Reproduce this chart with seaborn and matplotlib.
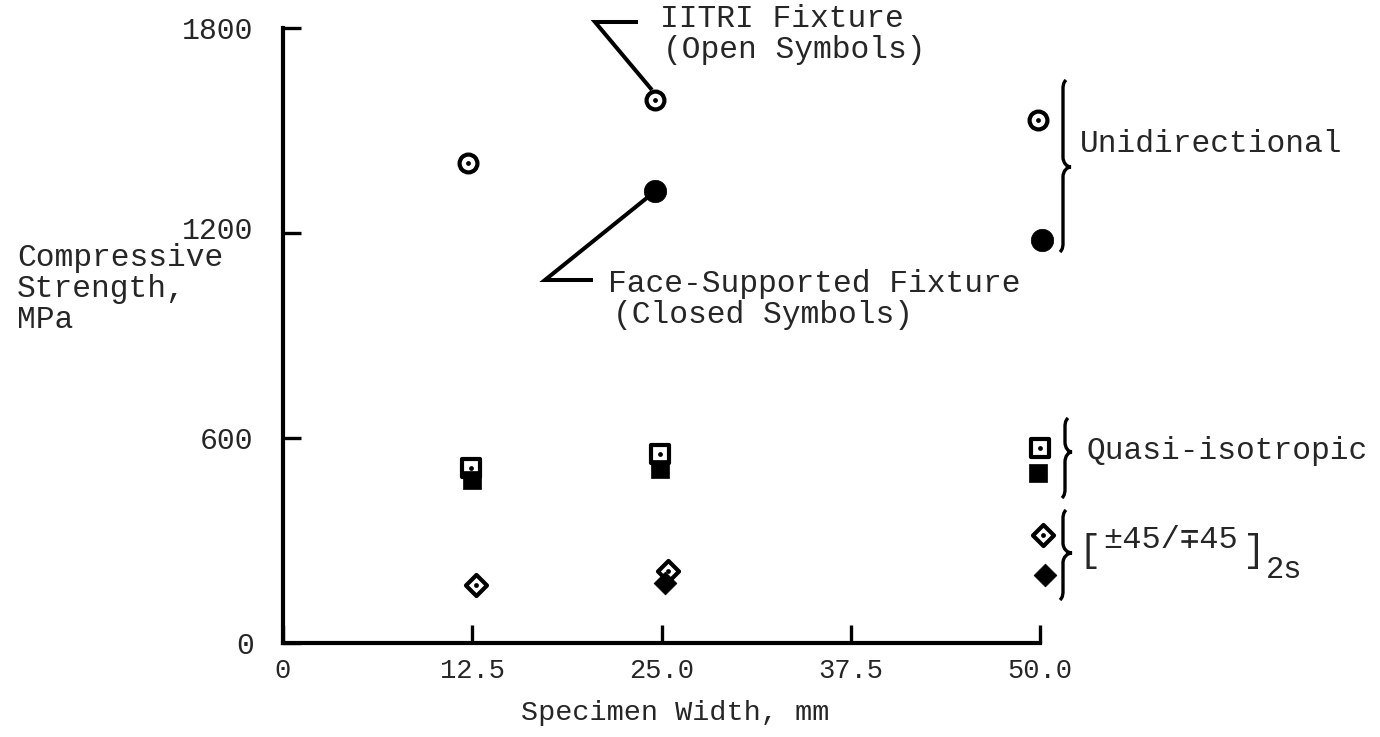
import matplotlib
matplotlib.use("Agg")
import numpy as np
import pandas as pd
import seaborn as sns
import matplotlib.pyplot as plt
from matplotlib.path import Path
from matplotlib.patches import PathPatch
from matplotlib.lines import Line2D
from matplotlib.transforms import ScaledTranslation

# ---------------- data ----------------
uni_open_w = [12.2, 24.6, 49.9]
uni_open_s = [1405, 1590, 1531]
uni_closed_w = [24.6, 50.1]
uni_closed_s = [1323, 1180]

quasi_open_w = [12.4, 24.9, 50.0]
quasi_open_s = [512, 553, 571]
quasi_closed_w = [12.5, 24.9, 49.9]
quasi_closed_s = [477, 509, 497]

pm45_open_w = [12.75, 25.4, 50.2]
pm45_open_s = [170, 211, 316]
pm45_closed_w = [25.2, 50.3]
pm45_closed_s = [176, 199]

x_ticks = [0, 12.5, 25.0, 37.5, 50.0]
x_tick_labels = ["0", "12.5", "25.0", "37.5", "50.0"]
y_ticks = [0, 600, 1200, 1800]
y_tick_labels = ["0", "600", "1200", "1800"]

# ---------------- table ----------------
rows = []
for lam, fix, ws, ss in [
    ("Unidirectional", "open", uni_open_w, uni_open_s),
    ("Unidirectional", "closed", uni_closed_w, uni_closed_s),
    ("Quasi-isotropic", "open", quasi_open_w, quasi_open_s),
    ("Quasi-isotropic", "closed", quasi_closed_w, quasi_closed_s),
    ("pm45", "open", pm45_open_w, pm45_open_s),
    ("pm45", "closed", pm45_closed_w, pm45_closed_s),
]:
    for w, s in zip(ws, ss):
        rows.append({"width": w, "strength": s, "laminate": lam, "fixture": fix})
df = pd.DataFrame(rows)

# ---------------- style ----------------
sns.set_style("white")
FAM = ["Liberation Mono", "DejaVu Sans Mono"]
plt.rcParams["font.family"] = FAM

W, H = 1380, 737
fig = plt.figure(figsize=(W / 100, H / 100), dpi=100)
X0, X1, Y0, Y1 = 283, 1040, 643, 28
ax = fig.add_axes([X0 / W, (H - Y0) / H, (X1 - X0) / W, (Y0 - Y1) / H])

markers = {"Unidirectional": ("o", 165, 260),
           "Quasi-isotropic": ("s", 155, 175),
           "pm45": ("D", 115, 135)}

for lam, (mk, s_open, s_closed) in markers.items():
    sub_o = df[(df.laminate == lam) & (df.fixture == "open")]
    sub_c = df[(df.laminate == lam) & (df.fixture == "closed")]
    sns.scatterplot(data=sub_o, x="width", y="strength", marker=mk, s=s_open,
                    color="white", edgecolor="black", linewidth=3.0,
                    ax=ax, clip_on=False, zorder=3, legend=False)
    sns.scatterplot(data=sub_c, x="width", y="strength", marker=mk, s=s_closed,
                    color="black", edgecolor="black", linewidth=0.5,
                    ax=ax, clip_on=False, zorder=4, legend=False)
    sns.scatterplot(data=sub_o, x="width", y="strength", marker="o", s=12,
                    color="black", linewidth=0,
                    ax=ax, clip_on=False, zorder=5, legend=False)

ax.set_xlim(0, 50)
ax.set_ylim(0, 1800)
ax.set_xticks(x_ticks)
ax.set_xticklabels(x_tick_labels)
ax.set_yticks(y_ticks)
ax.set_yticklabels(y_tick_labels)
ax.set_xlabel("")
ax.set_ylabel("")
for side in ["top", "right"]:
    ax.spines[side].set_visible(False)
for side in ["left", "bottom"]:
    ax.spines[side].set_linewidth(3.0)
    ax.spines[side].set_color("black")
    ax.spines[side].set_capstyle("projecting")
ax.tick_params(axis="both", which="major", direction="in", length=13, width=2.4,
               color="black", bottom=True, left=True, top=False, right=False)
ax.tick_params(axis="x", labelsize=19.5, pad=11)
ax.tick_params(axis="y", labelsize=21.5, pad=21)
ax.patch.set_alpha(0)

# the printed 1200 label sits a little higher than a linear scale puts it
for lab in ax.get_yticklabels():
    if lab.get_text() == "1200":
        lab.set_transform(lab.get_transform() + ScaledTranslation(0, 5 / 100, fig.dpi_scale_trans))


def P(px, py):
    return px / W, 1 - py / H


def ftext(px, py, s, size=22.5, ha="left", **kw):
    fx, fy = P(px, py)
    fig.text(fx, fy, s, ha=ha, va="baseline", fontsize=size, family=FAM, **kw)


def fline(pts, lw=2.9):
    xs = [p[0] / W for p in pts]
    ys = [1 - p[1] / H for p in pts]
    fig.add_artist(Line2D(xs, ys, transform=fig.transFigure, lw=lw, color="black",
                          solid_capstyle="butt", solid_joinstyle="miter"))


def brace(xb, yt, ym, yb, w, c=3, lw=2.4):
    a = min(10, (ym - yt) * 0.3)
    verts = [
        (xb + c, yt), (xb, yt + a * 0.3), (xb, yt + a * 0.6), (xb, yt + a),
        (xb, ym - a),
        (xb, ym - a * 0.4), (xb + w * 0.5, ym), (xb + w, ym),
        (xb + w * 0.5, ym), (xb, ym + a * 0.4), (xb, ym + a),
        (xb, yb - a),
        (xb, yb - a * 0.6), (xb, yb - a * 0.3), (xb - c, yb),
    ]
    codes = [Path.MOVETO, Path.CURVE4, Path.CURVE4, Path.CURVE4,
             Path.LINETO,
             Path.CURVE4, Path.CURVE4, Path.CURVE4,
             Path.CURVE4, Path.CURVE4, Path.CURVE4,
             Path.LINETO,
             Path.CURVE4, Path.CURVE4, Path.CURVE4]
    fv = [P(x, y) for x, y in verts]
    fig.add_artist(PathPatch(Path(fv, codes), transform=fig.transFigure,
                             fill=False, lw=lw, edgecolor="black"))


# leader lines and annotations
fline([(652, 90), (595, 22), (638, 22)])
fline([(648, 197), (545, 280), (593, 280)])
ftext(660, 27, "IITRI Fixture")
ftext(663, 58, "(Open Symbols)")
ftext(608, 292, "Face-Supported Fixture")
ftext(613, 323, "(Closed Symbols)")

# braces and group labels
brace(1063, 80, 167, 252, 8)
brace(1065, 418, 452, 498, 7)
brace(1063, 510, 553, 600, 9)
ftext(1080, 152, "Unidirectional")
ftext(1087, 459, "Quasi-isotropic")
ftext(1079, 561, "[", size=27)
ftext(1103, 548, "\u00b145/\u221345", size=23)
ftext(1243, 561, "]", size=27)
ftext(1266, 578, "2s", size=22)

# axis titles
ftext(17, 266, "Compressive")
ftext(17, 297, "Strength,")
ftext(17, 328, "MPa")
ftext(675, 720, "Specimen Width, mm", size=20.5, ha="center")

fig.savefig("out.png", dpi=100, facecolor="white")
